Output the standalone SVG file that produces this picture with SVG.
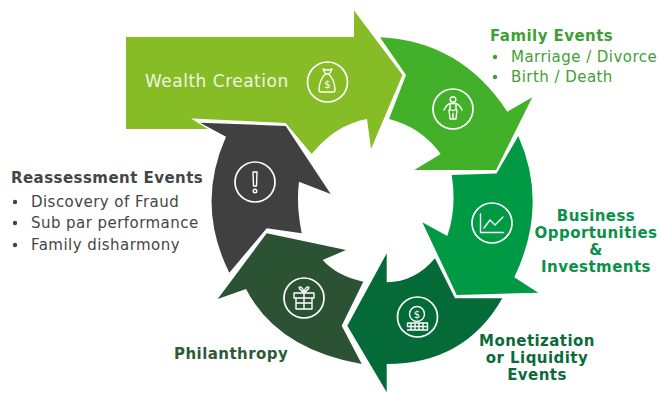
<svg xmlns="http://www.w3.org/2000/svg" width="658" height="393" viewBox="0 0 658 393">
<style>
text{font-family:"DejaVu Sans",Verdana,sans-serif;font-size:15px;letter-spacing:.45px}
.b{font-weight:bold}
.c{text-anchor:middle}
.ic{fill:none;stroke:#fff;stroke-width:1.4;stroke-linecap:round;stroke-linejoin:round}
.ring{fill:none;stroke:#fff;stroke-width:1.7}
.fam{fill:#3F9F35}.bus{fill:#0A9148}.mon{fill:#0B6A3A}.phi{fill:#2F5A3A}.gry{fill:#454545}
</style>
<rect width="658" height="393" fill="#fff"/>
<g id="connectors"></g>
<g id="family">
<path fill="#43B02A" d="M380 37.300Q461 41 507.300 111.700L532.300 97.300L496 170L414.300 170L440.700 154Q421 127 389 119L406 75Z"/>
<circle class="ring" cx="453" cy="109" r="20"/>
<g class="ic"><circle cx="453" cy="99.500" r="2.800"/><path d="M444 110q3-6 6-6.500h6q3 .5 6 6.500M450 103.500v6q3 2 6 0v-6M449 110l1 9h3v-5.500M457 110l-1 9h-3"/></g>
<text class="b fam" x="490" y="41">Family Events</text>
<circle class="fam" cx="495" cy="57" r="2.200"/><text class="fam" x="511" y="62">Marriage / Divorce</text>
<circle class="fam" cx="495" cy="77" r="2.200"/><text class="fam" x="511" y="82">Birth / Death</text>
</g>
<g id="business">
<path fill="#009A44" d="M518.300 136Q549 205 514.300 277.300L538.300 292.700L456.700 295L422.300 222.300L447.300 236Q457 208 451.700 175L496.500 173.500Z"/>
<circle class="ring" cx="492" cy="223" r="20"/>
<g class="ic"><path d="M480.500 214v18.500h23M484 228l6-8 5 5 8-8"/></g>
<text class="b c bus" x="596" y="221">Business</text>
<text class="b c bus" x="596" y="238">Opportunities</text>
<text class="b c bus" x="596" y="255">&amp;</text>
<text class="b c bus" x="596" y="272">Investments</text>
</g>
<g id="monetization">
<path fill="#046A38" d="M386.700 253.300V282.300Q415 282 435 258.300L455 298.300H502.300Q465 364 386.700 364V392.300L347.300 325.700Z"/>
<circle class="ring" cx="417.500" cy="317" r="20"/>
<g class="ic"><circle cx="417" cy="314" r="7.500"/><path d="M407.500 323h20v3.500h-20zM407.500 326.500h20v3.500h-20M411 323v7M415 323v7M419 323v7M423 323v7"/></g>
<text x="417" y="318" class="c" style="font-size:10px;letter-spacing:0" fill="#fff">$</text>
<text class="b c mon" x="537" y="346">Monetization</text>
<text class="b c mon" x="537" y="363">or Liquidity</text>
<text class="b c mon" x="537" y="380">Events</text>
</g>
<g id="wealth">
<path fill="#86BC25" d="M126 37H354V10.500L402.500 75L371 149L367 119Q335 125 311.700 154L285.500 123L191 118.500L208 129H126Z"/>
<circle class="ring" cx="327.500" cy="82" r="20"/>
<g class="ic"><path d="M323 69q4.500 2 9 0l-2.500 5h-4zM325.500 74q-6 5-6.500 16q0 2 2 2h12q2 0 2-2q-.5-11-6.500-16"/></g>
<text x="327.500" y="88" class="c" style="font-size:10px;letter-spacing:0" fill="#fff">$</text>
<text x="145" y="87" style="font-size:17px;letter-spacing:.5px" fill="#F0F6E0">Wealth Creation</text>
</g>
<g id="reassessment">
<path fill="#404040" d="M200 122.700L285.700 126L330.700 194L299 181.700Q296 205 301.700 233.300L266.700 228.300L229.300 272.700Q195.500 205 226 136.700Z"/>
<circle class="ring" cx="255" cy="182" r="20"/>
<g class="ic"><path d="M253 172h4l-.5 14h-3z"/><circle cx="255" cy="191" r="1.800"/></g>
<text class="b gry" x="11" y="183">Reassessment Events</text>
<circle class="gry" cx="15" cy="202" r="2.200"/><text class="gry" x="31" y="207">Discovery of Fraud</text>
<circle class="gry" cx="15" cy="223" r="2.200"/><text class="gry" x="31" y="228">Sub par performance</text>
<circle class="gry" cx="15" cy="245" r="2.200"/><text class="gry" x="31" y="250">Family disharmony</text>
</g>
<g id="philanthropy">
<path fill="#2C5234" d="M217.700 299L266.700 233.300L346 250L322.700 260Q337 276 363.300 281.700L341.700 325.700L361.700 364Q277 349 246 289Z"/>
<circle class="ring" cx="304" cy="298" r="20"/>
<g class="ic"><path d="M294 293h20v5h-20zM296 298v11h16v-11M304 293v16M296 303h16M304 293q-7-6-4-6t4 6q7-6 4-6t-4 6"/></g>
<text class="b phi" x="174" y="359">Philanthropy</text>
</g>
</svg>
